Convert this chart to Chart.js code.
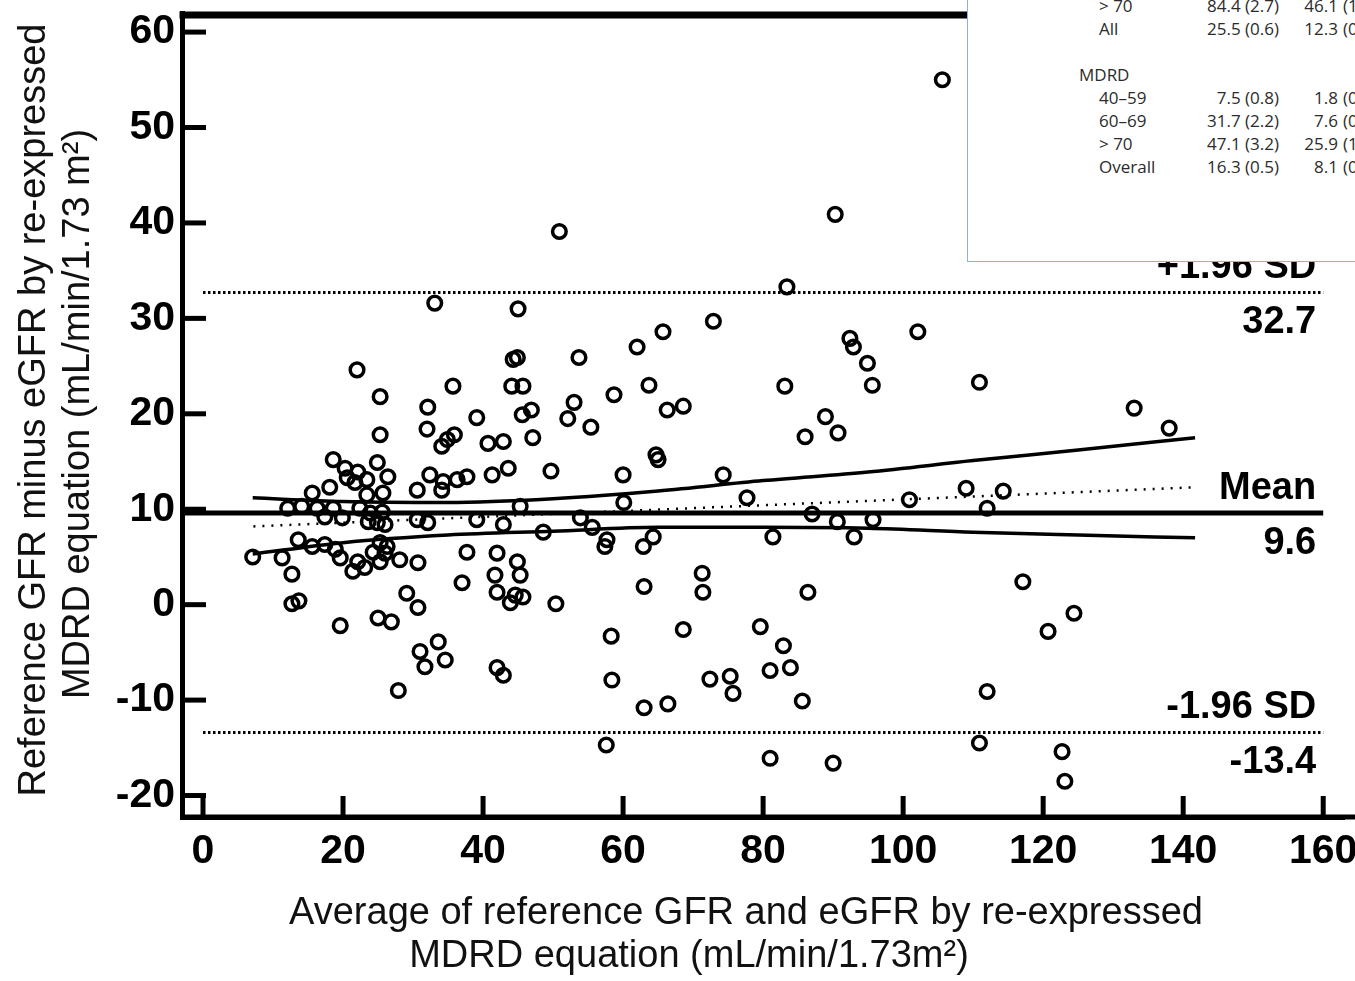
<!DOCTYPE html>
<html>
<head>
<meta charset="utf-8">
<script src="https://cdn.jsdelivr.net/npm/chart.js@4.4.0/dist/chart.umd.min.js"></script>
<style>
  html, body { margin: 0; padding: 0; background: #fff; }
  #wrap { position: relative; width: 1355px; height: 981px; overflow: hidden; }
  #tbl {
    position: absolute; left: 967px; top: -30px; width: 430px; height: 292px;
    box-sizing: border-box; border: 1.5px solid #8db2e0; background: #fff;
    font: 17px "Open Sans", "Noto Sans", sans-serif; color: #2b2b2b;
  }
  #tbl .row { position: absolute; left: 0; width: 430px; height: 23px; line-height: 23px; white-space: nowrap; }
  #tbl span { position: absolute; top: 0; }
</style>
</head>
<body>
<div id="wrap">
  <canvas id="blandAltman" width="1355" height="981"></canvas>
  <div id="tbl"></div>
</div>
<script>
// axis ticks
const xTicks = [0, 20, 40, 60, 80, 100, 120, 140, 160];
const yTicks = [-20, -10, 0, 10, 20, 30, 40, 50, 60];

// average of reference GFR and eGFR (x) and their difference (y)
const avgGFR = [
  105.6, 90.3, 50.9, 83.4, 33.1, 45.0, 72.9, 102.1, 65.7, 92.4,
  62.0, 92.9, 94.9, 44.3, 44.9, 53.7, 22.0, 110.9, 83.1, 95.6,
  63.7, 35.7, 44.1, 45.7, 133.0, 138.0, 58.7, 25.3, 53.0, 32.1,
  68.6, 66.3, 46.9, 45.6, 39.1, 88.9, 52.1, 32.0, 55.4, 90.7,
  86.0, 34.1, 34.9, 35.9, 25.3, 47.1, 40.7, 42.9, 64.7, 65.0,
  18.6, 24.9, 20.3, 22.1, 20.6, 49.7, 43.6, 41.3, 60.0, 74.3,
  26.4, 32.4, 37.7, 36.3, 34.3, 21.7, 23.4, 18.1, 15.6, 30.6,
  34.1, 25.7, 23.4, 109.0, 114.3, 77.7, 100.9, 112.0, 45.3, 60.1,
  12.1, 14.1, 16.3, 18.6, 22.4, 23.9, 25.6, 17.4, 19.9, 23.6,
  24.9, 26.0, 30.6, 32.1, 39.1, 42.9, 87.0, 90.6, 95.7, 53.9,
  55.6, 48.6, 81.4, 93.0, 64.3, 62.9, 57.7, 57.4, 13.6, 15.6,
  17.4, 18.9, 25.3, 26.3, 24.3, 26.0, 37.7, 42.0, 7.1, 11.3,
  19.6, 22.1, 23.1, 21.4, 25.3, 28.1, 30.7, 44.9, 12.7, 45.3,
  41.7, 71.3, 117.1, 37.0, 63.0, 71.4, 86.4, 42.0, 44.6, 45.7,
  43.9, 29.1, 12.7, 13.7, 50.4, 30.7, 124.4, 25.0, 26.9, 19.6,
  79.6, 68.6, 120.7, 58.3, 33.6, 82.9, 31.0, 34.6, 31.7, 42.0,
  42.9, 83.9, 81.0, 58.4, 72.4, 75.3, 75.7, 27.9, 112.0, 63.0,
  66.4, 85.6, 57.6, 110.9, 122.7, 81.0, 90.0, 123.1
];
const diffGFR = [
  55.0, 40.9, 39.1, 33.3, 31.6, 31.0, 29.7, 28.6, 28.6, 27.9,
  27.0, 27.0, 25.3, 25.7, 25.9, 25.9, 24.6, 23.3, 22.9, 23.0,
  23.0, 22.9, 22.9, 22.9, 20.6, 18.5, 22.0, 21.8, 21.2, 20.7,
  20.8, 20.4, 20.4, 19.9, 19.6, 19.7, 19.5, 18.4, 18.6, 18.0,
  17.6, 16.6, 17.3, 17.8, 17.8, 17.5, 16.9, 17.1, 15.7, 15.2,
  15.2, 14.9, 14.3, 13.9, 13.3, 14.0, 14.3, 13.6, 13.6, 13.6,
  13.4, 13.6, 13.4, 13.1, 12.9, 12.8, 13.1, 12.3, 11.7, 12.0,
  12.0, 11.7, 11.5, 12.2, 11.9, 11.2, 11.0, 10.1, 10.3, 10.7,
  10.1, 10.3, 10.1, 10.1, 10.1, 9.6, 9.7, 9.2, 9.1, 8.7,
  8.6, 8.4, 8.9, 8.6, 8.9, 8.4, 9.5, 8.7, 8.9, 9.1,
  8.1, 7.6, 7.1, 7.1, 7.1, 6.1, 6.8, 6.1, 6.8, 6.1,
  6.3, 5.8, 6.5, 6.1, 5.5, 5.4, 5.5, 5.4, 5.0, 4.9,
  4.9, 4.5, 3.9, 3.5, 4.5, 4.7, 4.4, 4.5, 3.2, 3.1,
  3.1, 3.3, 2.4, 2.3, 1.9, 1.3, 1.3, 1.3, 1.0, 0.8,
  0.2, 1.2, 0.1, 0.4, 0.1, -0.3, -0.9, -1.4, -1.8, -2.2,
  -2.3, -2.6, -2.8, -3.3, -3.9, -4.3, -4.9, -5.8, -6.5, -6.6,
  -7.4, -6.6, -6.9, -7.9, -7.8, -7.5, -9.3, -9.0, -9.1, -10.8,
  -10.4, -10.1, -14.7, -14.5, -15.4, -16.1, -16.6, -18.5
];

// mean difference and limits of agreement
const refValues = [32.7, 9.6, -13.4];
const refNames = ['+1.96 SD', 'Mean', '-1.96 SD'];
const refText = ['32.7', '9.6', '-13.4'];
const meanSpan = [-3, 160];
const loaSpan = [0, 160];

// regression line and its confidence band
const regX = [7.2, 141.7];
const regY = [8.2, 12.3];
const ciX = [7.1, 20, 35, 50, 65, 80, 95, 110, 125, 141.7];
const ciUpper = [11.2, 10.8, 10.7, 11.1, 11.9, 13.0, 13.9, 15.1, 16.2, 17.5];
const ciLower = [5.3, 6.5, 7.3, 7.7, 8.1, 8.1, 8.0, 7.6, 7.3, 7.0];

const xTitle = ['Average of reference GFR and eGFR by re-expressed', 'MDRD equation (mL/min/1.73m\u00b2)'];
const yTitle = ['Reference GFR minus eGFR by re-expressed', 'MDRD equation (mL/min/1.73 m\u00b2)'];

// inset table (cropped in the source picture)
const tblLabels = ['> 70', 'All', '', 'MDRD', '40\u201359', '60\u201369', '> 70', 'Overall'];
const tblCol1 = ['84.4 (2.7)', '25.5 (0.6)', '', '', '7.5 (0.8)', '31.7 (2.2)', '47.1 (3.2)', '16.3 (0.5)'];
const tblCol2 = ['46.1', '12.3', '', '', '1.8', '7.6', '25.9', '8.1'];
const tblCol2b = ['(1', '(0', '', '', '(0', '(0', '(1', '(0'];

const FONT = '"Liberation Sans", Arial, sans-serif';

const pts = avgGFR.map((v, i) => ({ x: v, y: diffGFR[i] }));
const pair = (xs, ys) => xs.map((v, i) => ({ x: v, y: ys[i] }));

const decor = {
  id: 'decor',
  afterDraw(chart) {
    const { ctx, chartArea: a, scales: { x, y } } = chart;
    ctx.save();
    ctx.strokeStyle = '#000';
    ctx.fillStyle = '#000';
    // top frame line
    ctx.lineWidth = 7;
    ctx.beginPath();
    ctx.moveTo(a.left - 2.5, a.top + 2);
    ctx.lineTo(chart.width, a.top + 2);
    ctx.stroke();
    // bottom axis runs to the picture edge
    ctx.lineWidth = 5;
    ctx.beginPath();
    ctx.moveTo(a.left, a.bottom);
    ctx.lineTo(chart.width, a.bottom);
    ctx.stroke();
    // inward ticks
    yTicks.forEach(v => {
      const p = y.getPixelForValue(v);
      ctx.beginPath(); ctx.moveTo(a.left, p); ctx.lineTo(a.left + 24, p); ctx.stroke();
    });
    xTicks.forEach(v => {
      const p = x.getPixelForValue(v);
      ctx.beginPath(); ctx.moveTo(p, a.bottom); ctx.lineTo(p, a.bottom - 21); ctx.stroke();
    });
    // tick labels
    ctx.font = 'bold 41px ' + FONT;
    ctx.textBaseline = 'middle';
    ctx.textAlign = 'right';
    yTicks.forEach(v => ctx.fillText(String(v), a.left - 7, y.getPixelForValue(v)));
    ctx.textAlign = 'center';
    xTicks.forEach(v => ctx.fillText(String(v), x.getPixelForValue(v), a.bottom + 35));
    // reference line labels
    ctx.font = 'bold 38px ' + FONT;
    ctx.textAlign = 'right';
    const lx = x.getPixelForValue(159);
    refValues.forEach((v, i) => {
      const p = y.getPixelForValue(v);
      ctx.fillText(refNames[i], lx, p - 25);
      ctx.fillText(refText[i], lx, p + 30);
    });
    // axis titles
    ctx.fillStyle = '#111';
    ctx.font = '38px ' + FONT;
    ctx.textAlign = 'center';
    ctx.fillText(xTitle[0], 746, 914);
    ctx.fillText(xTitle[1], 689, 957);
    [[35, 410], [79, 414]].forEach(([cx, cy], i) => {
      ctx.save();
      ctx.translate(cx, cy);
      ctx.rotate(-Math.PI / 2);
      ctx.fillText(yTitle[i], 0, 0);
      ctx.restore();
    });
    ctx.restore();
  }
};

const lineDs = (data, extra) => Object.assign({
  type: 'line', data, borderColor: '#000', pointRadius: 0, fill: false, borderWidth: 3.5
}, extra);

new Chart(document.getElementById('blandAltman').getContext('2d'), {
  type: 'scatter',
  data: {
    datasets: [
      {
        data: pts,
        pointStyle: 'circle',
        pointRadius: 6.8,
        pointBorderWidth: 3.5,
        borderColor: '#000',
        backgroundColor: 'rgba(255,255,255,0)'
      },
      lineDs(meanSpan.map(v => ({ x: v, y: refValues[1] })), { borderWidth: 5 }),
      lineDs(loaSpan.map(v => ({ x: v, y: refValues[0] })), { borderWidth: 3, borderDash: [2.5, 2.5] }),
      lineDs(loaSpan.map(v => ({ x: v, y: refValues[2] })), { borderWidth: 3, borderDash: [2.5, 2.5] }),
      lineDs(pair(regX, regY), { borderWidth: 2.5, borderDash: [2, 7] }),
      lineDs(pair(ciX, ciUpper), { cubicInterpolationMode: 'monotone' }),
      lineDs(pair(ciX, ciLower), { cubicInterpolationMode: 'monotone' })
    ]
  },
  options: {
    responsive: false,
    devicePixelRatio: 1,
    animation: false,
    layout: { padding: { top: 13, right: 0, left: 0, bottom: 0 } },
    plugins: { legend: { display: false }, tooltip: { enabled: false } },
    scales: {
      x: {
        type: 'linear', min: -3, max: 163.07,
        afterBuildTicks: s => { s.ticks = xTicks.map(v => ({ value: v })); },
        afterFit: s => { s.height = 164; },
        ticks: { display: false },
        grid: { display: false, drawTicks: false },
        border: { display: true, color: '#000', width: 5 }
      },
      y: {
        type: 'linear', min: -22.25, max: 62.0,
        afterBuildTicks: s => { s.ticks = yTicks.map(v => ({ value: v })); },
        afterFit: s => { s.width = 182; },
        ticks: { display: false },
        grid: { display: false, drawTicks: false },
        border: { display: true, color: '#000', width: 5 }
      }
    }
  },
  plugins: [decor]
});

// inset table
const tbl = document.getElementById('tbl');
tblLabels.forEach((lab, i) => {
  const row = document.createElement('div');
  row.className = 'row';
  row.style.top = (23 + i * 23) + 'px';
  const indent = lab === 'MDRD' ? 111 : 131;
  row.innerHTML =
    '<span style="left:' + indent + 'px">' + lab.replace('>', '&gt;') + '</span>' +
    '<span style="left:0;width:311px;text-align:right">' + tblCol1[i] + '</span>' +
    '<span style="left:311px;width:59px;text-align:right">' + tblCol2[i] + '</span>' +
    '<span style="left:375px">' + tblCol2b[i] + '</span>';
  tbl.appendChild(row);
});
</script>
</body>
</html>
